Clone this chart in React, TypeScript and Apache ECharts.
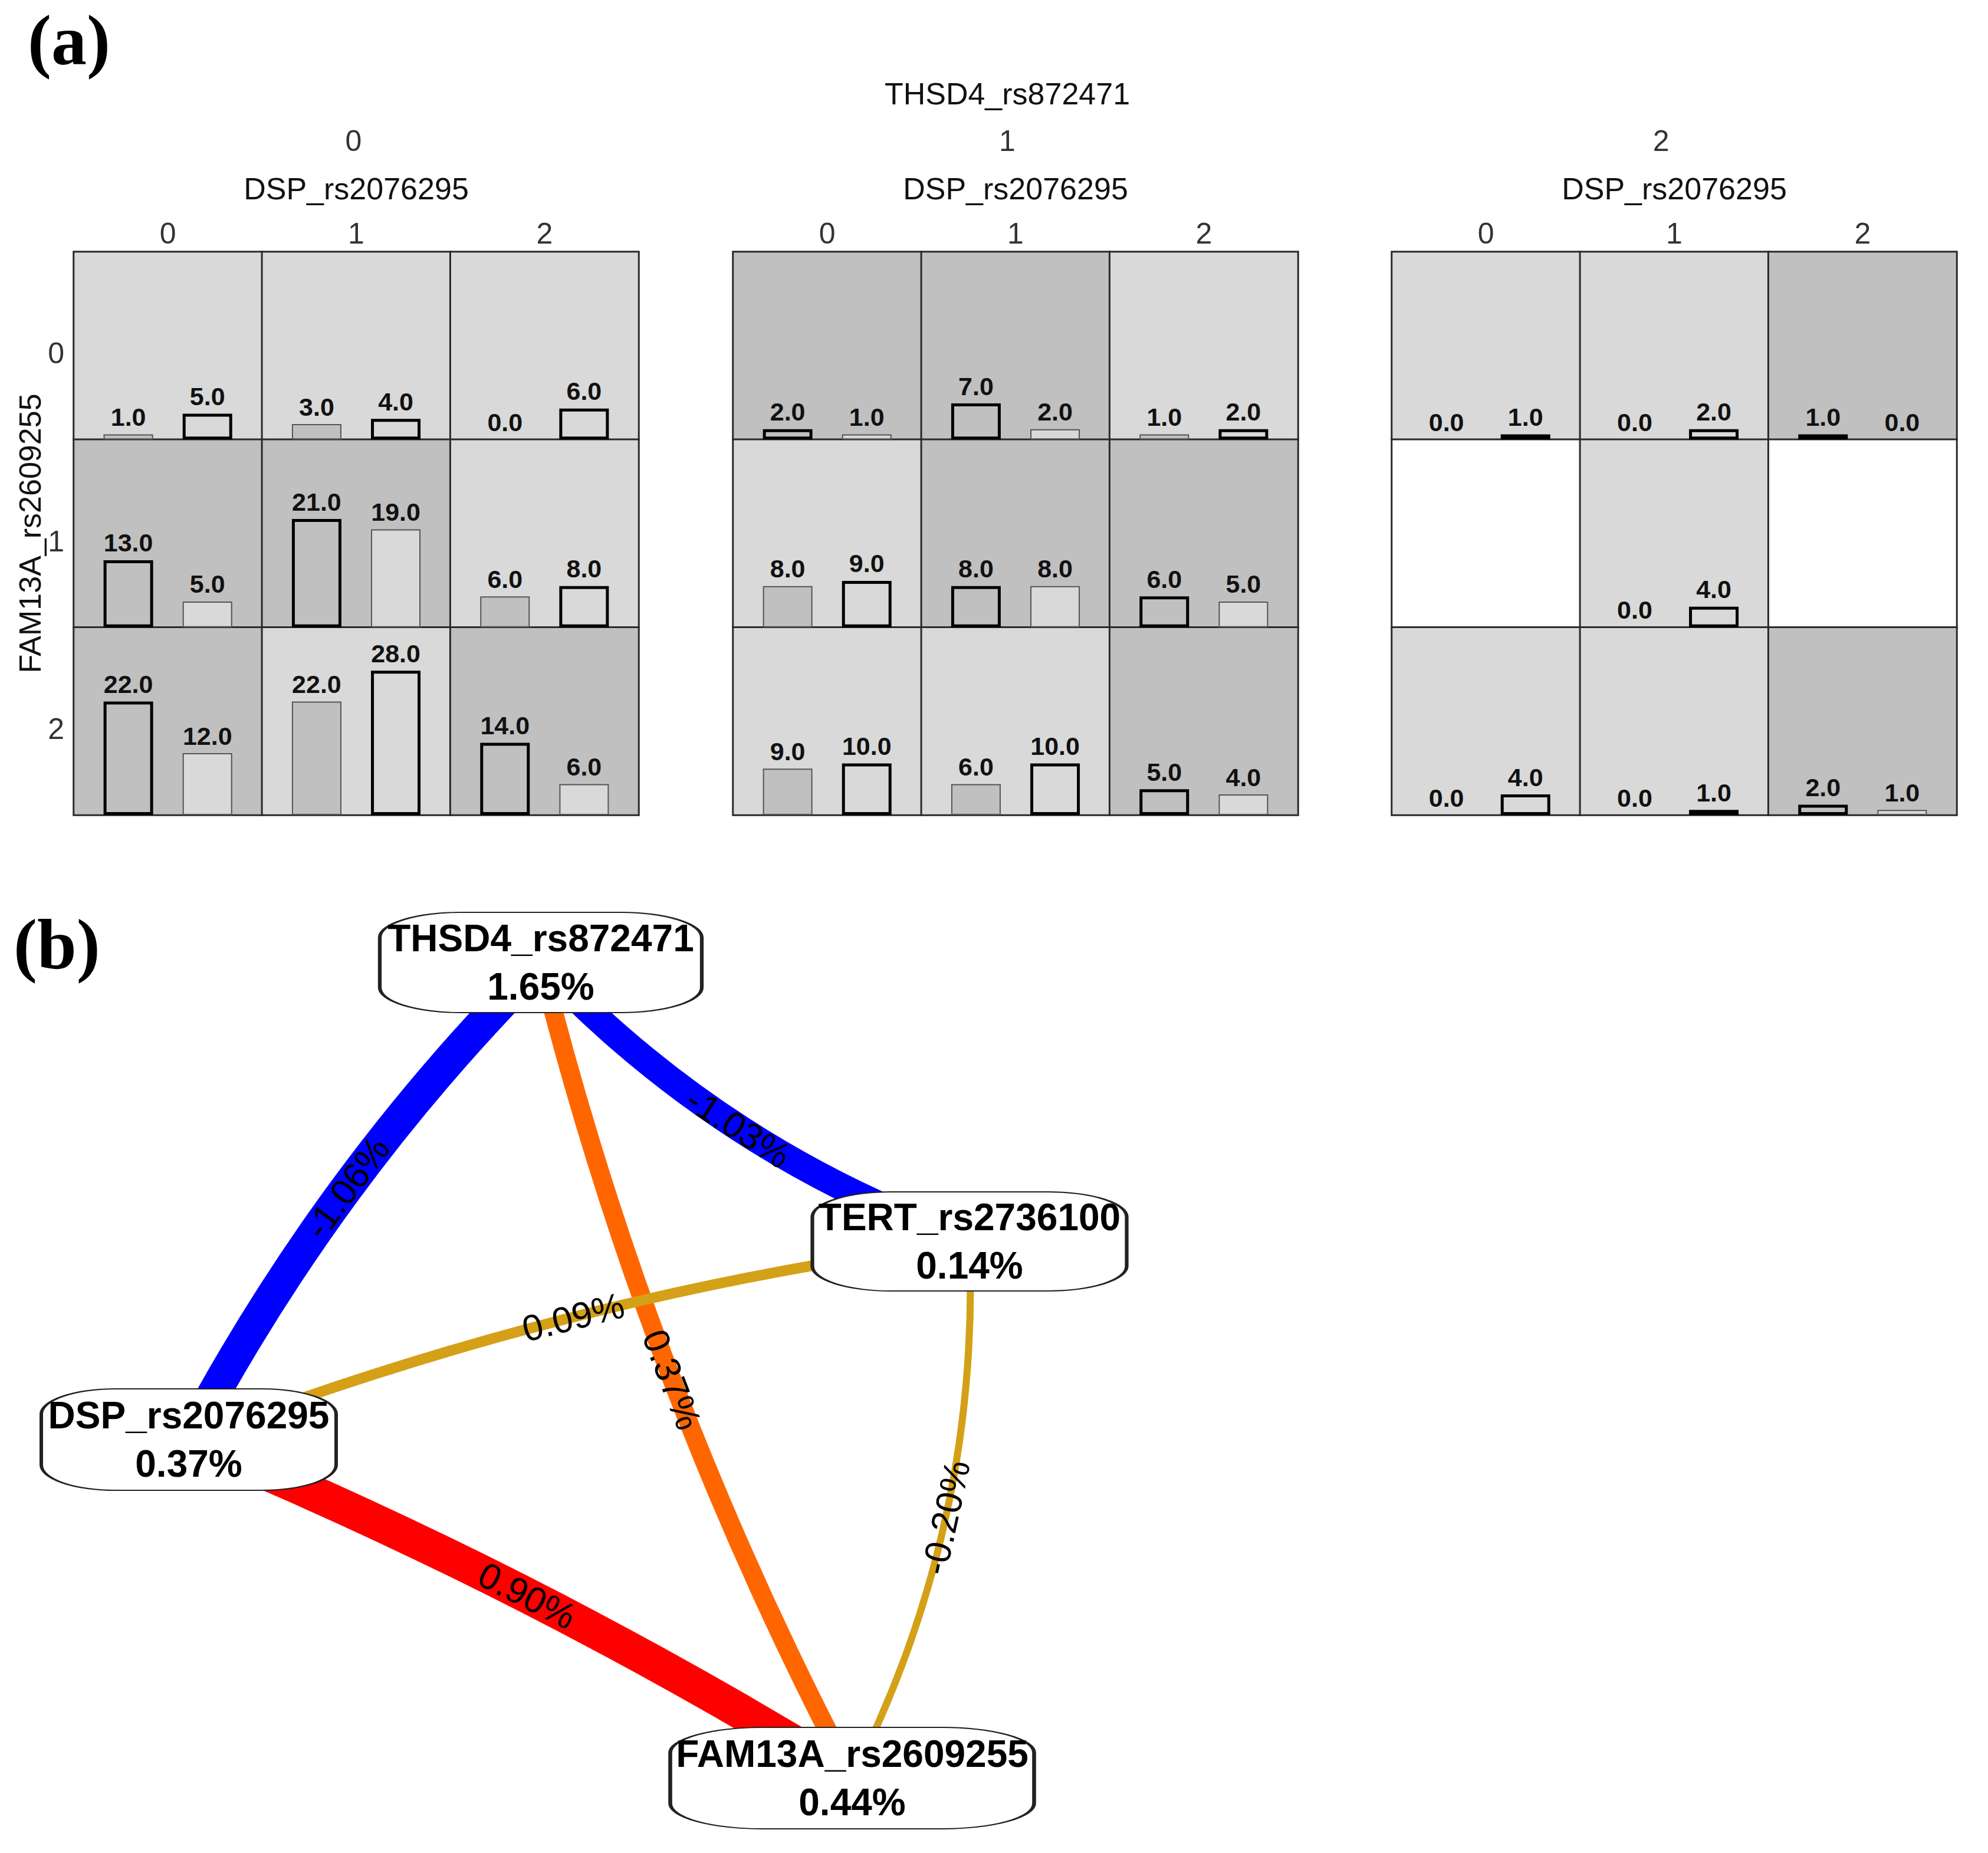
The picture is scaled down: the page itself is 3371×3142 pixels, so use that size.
import React, { useEffect, useRef } from 'react';
import * as echarts from 'echarts';

const W = 3371;
const H = 3142;

// ---------- (a) MDR plot data ----------
const thsd4Levels = ['0', '1', '2'];
const dspLevels = ['0', '1', '2'];
const fam13aLevels = ['0', '1', '2'];
const barCategories = ['Cases', 'Controls'];

// [FAM13A row][DSP col]; null = no samples in that cell
const casesTHSD4_0 = [[1, 3, 0], [13, 21, 6], [22, 22, 14]];
const controlsTHSD4_0 = [[5, 4, 6], [5, 19, 8], [12, 28, 6]];
const casesTHSD4_1 = [[2, 7, 1], [8, 8, 6], [9, 6, 5]];
const controlsTHSD4_1 = [[1, 2, 2], [9, 8, 5], [10, 10, 4]];
const casesTHSD4_2 = [[0, 0, 1], [null, 0, null], [0, 0, 2]];
const controlsTHSD4_2 = [[1, 2, 0], [null, 4, null], [4, 1, 1]];

const casesByPanel = [casesTHSD4_0, casesTHSD4_1, casesTHSD4_2];
const controlsByPanel = [controlsTHSD4_0, controlsTHSD4_1, controlsTHSD4_2];

// ---------- (b) interaction graph data ----------
const nodeNames = ['THSD4_rs872471', 'TERT_rs2736100', 'DSP_rs2076295', 'FAM13A_rs2609255'];
const nodeEntropy = [1.65, 0.14, 0.37, 0.44];
const edgeSources = [0, 0, 0, 1, 1, 2];
const edgeTargets = [2, 1, 3, 2, 3, 3];
const edgeEntropy = [-1.06, -1.03, 0.37, 0.09, -0.2, 0.9];

// ---------- layout / style (not data) ----------
const panelLeft = [125, 1243, 2360];
const panelTop = 427;
const panelW = 958;
const panelH = 955;
const cellW = panelW / 3;
const cellH = panelH / 3;
const barInset = cellW * 0.08;

const nodeCenters = [[917, 1632], [1644, 2105], [320, 2441], [1445, 3015]];
const nodeBoxSizes = [[546, 170], [533, 168], [500, 172], [617, 172]];
const edgeColors = ['#0000ff', '#0000ff', '#ff6600', '#d4a017', '#d4a017', '#ff0000'];
const edgeWidths = [56, 46, 32, 18, 12, 60];
const edgeCurveness = [-0.075, -0.12, -0.06, -0.06, 0.13, 0.04];

const FONT = 'Liberation Sans, Arial, sans-serif';

function buildOption() {
  const grid: any[] = [];
  const xAxis: any[] = [];
  const yAxis: any[] = [];
  const series: any[] = [];

  // panel grids with heatmap backgrounds (series 0..2)
  for (let p = 0; p < 3; p++) {
    grid.push({ left: panelLeft[p], top: panelTop, width: panelW, height: panelH });
    xAxis.push({
      type: 'category', gridIndex: p, data: dspLevels, position: 'top',
      axisLine: { show: false }, axisTick: { show: false }, splitLine: { show: false },
      axisLabel: { fontSize: 50, color: '#333', margin: 6, fontFamily: FONT },
      name: 'DSP_rs2076295', nameLocation: 'middle', nameGap: 81,
      nameTextStyle: { fontSize: 52, color: '#111', fontFamily: FONT },
    });
    yAxis.push({
      type: 'category', gridIndex: p, data: fam13aLevels, inverse: true,
      axisLine: { show: false }, axisTick: { show: false }, splitLine: { show: false },
      axisLabel: {
        show: p === 0, margin: 16,
        formatter: (v: string) => `{t|${v}}`,
        rich: { t: { fontSize: 50, color: '#333', fontFamily: FONT, padding: [26, 0, 0, 0] } },
      },
      name: p === 0 ? 'FAM13A_rs2609255' : '', nameLocation: 'middle', nameGap: 45,
      nameTextStyle: { fontSize: 52, color: '#111', fontFamily: FONT },
    });
    const cells: any[] = [];
    for (let r = 0; r < 3; r++) {
      for (let c = 0; c < 3; c++) {
        const cs = casesByPanel[p][r][c];
        const ct = controlsByPanel[p][r][c];
        let risk = 0;
        if (cs !== null && ct !== null) risk = cs >= ct ? 2 : 1;
        cells.push([c, r, risk]);
      }
    }
    series.push({
      type: 'heatmap', xAxisIndex: p, yAxisIndex: p, data: cells, z: 1,
      itemStyle: { borderColor: '#2a2a2a', borderWidth: 3 },
      emphasis: { disabled: true }, label: { show: false },
    });
  }

  // outer axis for THSD4 levels
  grid.push({ left: 45, width: 3354, top: 300, height: 10 });
  xAxis.push({
    type: 'category', gridIndex: 3, data: thsd4Levels, position: 'top',
    axisLine: { show: false }, axisTick: { show: false }, splitLine: { show: false },
    axisLabel: { fontSize: 50, color: '#333', margin: 36, fontFamily: FONT },
    name: 'THSD4_rs872471', nameLocation: 'middle', nameGap: 115,
    nameTextStyle: { fontSize: 52, color: '#111', fontFamily: FONT },
  });
  yAxis.push({ type: 'value', gridIndex: 3, show: false });

  // network grid
  grid.push({ left: 0, top: 0, width: W, height: H });
  xAxis.push({ type: 'value', gridIndex: 4, min: 0, max: W, show: false });
  yAxis.push({ type: 'value', gridIndex: 4, min: 0, max: H, inverse: true, show: false });

  // bars per cell
  const allVals: number[] = [];
  casesByPanel.concat(controlsByPanel).forEach((m) => m.forEach((row) => row.forEach((v) => { if (v !== null) allVals.push(v as number); })));
  const yMax = Math.max(...allVals) * 1.3;

  let g = 5;
  for (let p = 0; p < 3; p++) {
    for (let r = 0; r < 3; r++) {
      for (let c = 0; c < 3; c++) {
        const cs = casesByPanel[p][r][c];
        const ct = controlsByPanel[p][r][c];
        if (cs === null || ct === null) continue;
        grid.push({
          left: panelLeft[p] + c * cellW + barInset,
          top: panelTop + r * cellH,
          width: cellW - 2 * barInset,
          height: cellH,
        });
        xAxis.push({ type: 'category', gridIndex: g, data: barCategories, show: false });
        yAxis.push({ type: 'value', gridIndex: g, min: 0, max: yMax, show: false });
        const caseBold = cs >= ct;
        const mk = (v: number, fill: string, bold: boolean) => ({
          value: v,
          itemStyle: {
            color: fill,
            borderColor: bold ? '#000' : '#555',
            borderWidth: v === 0 ? 0 : bold ? 5 : 2,
          },
        });
        series.push({
          type: 'bar', xAxisIndex: g, yAxisIndex: g, barWidth: 84, z: 3,
          data: [mk(cs, '#c0c0c0', caseBold), mk(ct, '#d9d9d9', !caseBold)],
          label: {
            show: true, position: 'top', distance: 8,
            formatter: (pr: any) => Number(pr.value).toFixed(1),
            fontSize: 43, fontWeight: 'bold', color: '#111', fontFamily: FONT,
          },
          emphasis: { disabled: true },
        });
        g++;
      }
    }
  }

  // network edges
  series.push({
    type: 'graph', coordinateSystem: 'cartesian2d', xAxisIndex: 4, yAxisIndex: 4,
    layout: 'none', symbol: 'none', symbolSize: 1, z: 5,
    data: nodeNames.map((n, i) => ({ name: n, value: nodeCenters[i] })),
    links: edgeSources.map((s, i) => ({
      source: s, target: edgeTargets[i], value: edgeEntropy[i],
      lineStyle: { color: edgeColors[i], width: edgeWidths[i], curveness: edgeCurveness[i], opacity: 1 },
    })),
    edgeLabel: {
      show: true, position: 'insideMiddle', fontSize: 62, color: '#000', fontFamily: FONT,
      formatter: (pr: any) => `${Number(pr.value).toFixed(2)}%`,
    },
    label: { show: false },
    emphasis: { disabled: true },
  });

  // network nodes
  series.push({
    type: 'scatter', xAxisIndex: 4, yAxisIndex: 4, symbol: 'roundRect', z: 10,
    data: nodeNames.map((n, i) => ({ name: n, value: nodeCenters[i], symbolSize: nodeBoxSizes[i] })),
    itemStyle: { color: '#ffffff', borderColor: '#222', borderWidth: 3.5, opacity: 1 },
    label: {
      show: true, position: 'inside', fontSize: 64, fontWeight: 'bold', color: '#000',
      lineHeight: 82, fontFamily: FONT,
      formatter: (pr: any) => `${pr.name}\n${nodeEntropy[pr.dataIndex].toFixed(2)}%`,
    },
    emphasis: { disabled: true },
  });

  return {
    animation: false,
    backgroundColor: '#ffffff',
    textStyle: { fontFamily: FONT },
    title: [
      { text: '(a)', left: 42, top: 3, textStyle: { fontFamily: 'Liberation Serif, Times New Roman, serif', fontWeight: 'bold', fontSize: 120, color: '#000' } },
      { text: '(b)', left: 18, top: 1536, textStyle: { fontFamily: 'Liberation Serif, Times New Roman, serif', fontWeight: 'bold', fontSize: 120, color: '#000' } },
    ],
    visualMap: {
      type: 'piecewise', show: false, dimension: 2, seriesIndex: [0, 1, 2],
      pieces: [
        { value: 0, color: '#ffffff' },
        { value: 1, color: '#d9d9d9' },
        { value: 2, color: '#c0c0c0' },
      ],
    },
    grid, xAxis, yAxis, series,
  };
}

export default function App() {
  const ref = useRef<HTMLDivElement>(null);
  useEffect(() => {
    if (!ref.current) return;
    const chart = echarts.init(ref.current, undefined, { renderer: 'svg' });
    chart.setOption(buildOption() as any);
    return () => chart.dispose();
  }, []);
  return <div ref={ref} style={{ position: 'absolute', left: 0, top: 0, width: W, height: H, background: '#fff' }} />;
}
